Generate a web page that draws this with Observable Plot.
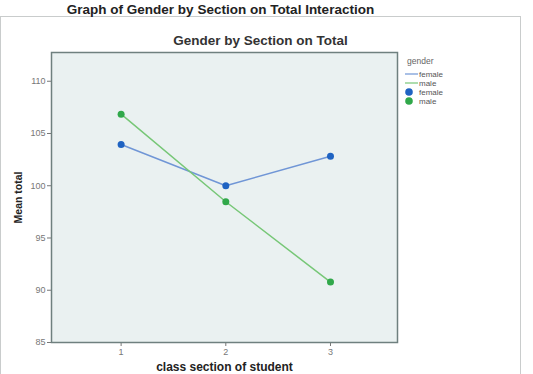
<!DOCTYPE html>
<html>
<head>
<meta charset="utf-8">
<script src="https://cdn.jsdelivr.net/npm/d3@7"></script>
<script src="https://cdn.jsdelivr.net/npm/@observablehq/plot@0.6"></script>
<style>
  html, body { margin: 0; padding: 0; background: #fff; }
  #wrap { position: relative; width: 533px; height: 374px; overflow: hidden; }
  #outer { position: absolute; left: 0; top: 16px; width: 521px; height: 370px; border: 1px solid #c9cccc; box-sizing: border-box; }
  #chart { position: absolute; left: 0; top: 0; }
</style>
</head>
<body>
<div id="wrap"><div id="outer"></div><div id="chart"></div></div>
<script>
// ---- data ----
const sections = [1, 2, 3];
const genders = ["female", "male"];
const femaleMeans = [103.95, 100.0, 102.83];
const maleMeans = [106.85, 98.47, 90.78];
const yTicks = [85, 90, 95, 100, 105, 110];
const outerTitle = "Graph of Gender by Section on Total Interaction";
const chartTitle = "Gender by Section on Total";
const xLabel = "class section of student";
const yLabel = "Mean total";
const legendTitle = "gender";

const lineColors = {female: "#7096d6", male: "#77c777"};
const dotColors = {female: "#1f63c2", male: "#30a84a"};

const rows = [];
sections.forEach((s, i) => {
  rows.push({section: s, gender: "female", mean: femaleMeans[i]});
  rows.push({section: s, gender: "male", mean: maleMeans[i]});
});
const fem = rows.filter(d => d.gender === "female");
const mal = rows.filter(d => d.gender === "male");

const font = "'Liberation Sans', Arial, Helvetica, sans-serif";

const chart = Plot.plot({
  width: 533,
  height: 374,
  marginLeft: 51,
  marginRight: 136,
  marginTop: 52,
  marginBottom: 32,
  style: {background: "transparent", fontFamily: font, fontSize: "9px", color: "#777"},
  x: {domain: [0.335, 3.64], ticks: sections, tickFormat: "d", tickSize: 4, tickPadding: 2, label: null},
  y: {domain: [85, 112.75], ticks: yTicks, tickSize: 4, tickPadding: 2, label: null},
  marks: [
    Plot.frame({fill: "#eaf1f1", stroke: "#6f807f", strokeWidth: 1.5}),
    Plot.line(fem, {x: "section", y: "mean", stroke: lineColors.female, strokeWidth: 1.5}),
    Plot.line(mal, {x: "section", y: "mean", stroke: lineColors.male, strokeWidth: 1.5}),
    Plot.dot(fem, {x: "section", y: "mean", fill: dotColors.female, r: 3.5}),
    Plot.dot(mal, {x: "section", y: "mean", fill: dotColors.male, r: 3.5}),
    Plot.text([chartTitle], {text: d => d, frameAnchor: "top", textAnchor: "middle", dx: 36, dy: -17, fontSize: 13.5, fontWeight: "bold", fill: "#333"}),
    Plot.text([outerTitle], {text: d => d, frameAnchor: "top", textAnchor: "middle", dx: -4, dy: -48.5, fontSize: 13.5, fontWeight: "bold", fill: "#222"}),
    Plot.text([xLabel], {text: d => d, frameAnchor: "bottom", textAnchor: "middle", dy: 28, fontSize: 12, fontWeight: "bold", fill: "#222", style: "letter-spacing:0.5px"}),
    Plot.text([yLabel], {text: d => d, frameAnchor: "left", textAnchor: "middle", dx: -33, rotate: -90, fontSize: 10.5, fontWeight: "bold", fill: "#222"})
  ]
});
document.getElementById("chart").appendChild(chart);

// legend (SPSS-style, right of the plot)
const svg = d3.select(chart);
const lg = svg.append("g").attr("font-family", font).attr("font-size", 8).attr("text-anchor", "start");
lg.append("text").attr("x", 407).attr("y", 64).attr("fill", "#666").attr("font-size", 8.5).text(legendTitle);
const items = [
  {type: "line", g: "female", y: 74},
  {type: "line", g: "male", y: 83},
  {type: "dot", g: "female", y: 92},
  {type: "dot", g: "male", y: 101}
];
items.forEach(it => {
  if (it.type === "line") {
    lg.append("line").attr("x1", 405).attr("x2", 418).attr("y1", it.y).attr("y2", it.y)
      .attr("stroke", lineColors[it.g]).attr("stroke-width", 1.2);
  } else {
    lg.append("circle").attr("cx", 409).attr("cy", it.y).attr("r", 3.8).attr("fill", dotColors[it.g]);
  }
  lg.append("text").attr("x", 419).attr("y", it.y + 3).attr("fill", "#555").text(it.g);
});
</script>
</body>
</html>
